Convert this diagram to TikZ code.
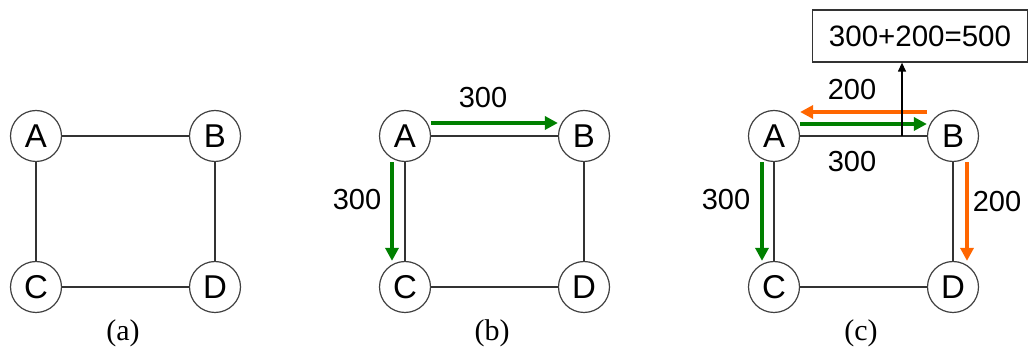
\documentclass[tikz,border=0pt]{standalone}
\usepackage{fontspec}
\setmainfont{Liberation Serif}
\newfontfamily\arialf{Liberation Sans}
\usetikzlibrary{arrows.meta}
\definecolor{flowgreen}{RGB}{0,128,0}
\definecolor{floworange}{RGB}{255,102,0}
\begin{document}
\begin{tikzpicture}[x=1pt,y=-1pt,
  vertex/.style={circle,draw=black!75,line width=1.2pt,fill=white,minimum size=51pt,inner sep=0pt,font=\arialf\fontsize{33}{33}\selectfont},
  link/.style={draw=black!80,line width=1.3pt},
  flow/.style={line width=3.5pt,-{Triangle[length=13pt,width=13pt]}},
  num/.style={font=\arialf\fontsize{29}{29}\selectfont},
  caption/.style={font=\fontsize{30}{30}\selectfont},
]
\useasboundingbox (0,0) rectangle (1029,352);

% three copies of the four-node ring
\foreach \p/\x in {a/36,b/405,c/774}{
  \node[vertex] (A\p) at (\x,136) {A};
  \node[vertex] (B\p) at (\x+179,136) {B};
  \node[vertex] (C\p) at (\x,287) {C};
  \node[vertex] (D\p) at (\x+179,287) {D};
  \draw[link] (A\p) -- (B\p);
  \draw[link] (A\p) -- (C\p);
  \draw[link] (B\p) -- (D\p);
  \draw[link] (C\p) -- (D\p);
  \node[caption] (cap\p) at (\x+87,333) {(\p)};
}

% (b): flows leaving A
\draw[flow,flowgreen] ([yshift=13pt]Ab.east) -- ([yshift=13pt]Bb.west);
\draw[flow,flowgreen] ([xshift=-13pt]Ab.south) -- ([xshift=-13pt]Cb.north);
\node[num] (fb1) at (483,98) {300};
\node[num] (fb2) at (357,200) {300};

% (c): flows from A and B, plus the summed load on link A-B
\draw[flow,flowgreen] ([yshift=12pt]Ac.east) -- ([yshift=12pt]Bc.west);
\draw[flow,floworange] ([yshift=24pt]Bc.west) -- ([yshift=24pt]Ac.east);
\draw[flow,flowgreen] ([xshift=-12pt]Ac.south) -- ([xshift=-12pt]Cc.north);
\draw[flow,floworange] ([xshift=14pt]Bc.south) -- ([xshift=14pt]Dc.north);
\node[num] (fc1) at (852,90) {200};
\node[num] (fc2) at (852,162) {300};
\node[num] (fc3) at (726,200) {300};
\node[num] (fc4) at (997,202) {200};

\node[draw=black!80,line width=1.3pt,minimum width=215pt,minimum height=52pt,inner sep=0pt,
      font=\arialf\fontsize{29.5}{29.5}\selectfont] (sum) at (920,36) {300+200=500};
\coordinate (tap) at (902,136);
\draw[line width=1.3pt,-{Triangle[length=9pt,width=8pt]}] (tap) -- (tap |- sum.south);
\end{tikzpicture}
\end{document}
